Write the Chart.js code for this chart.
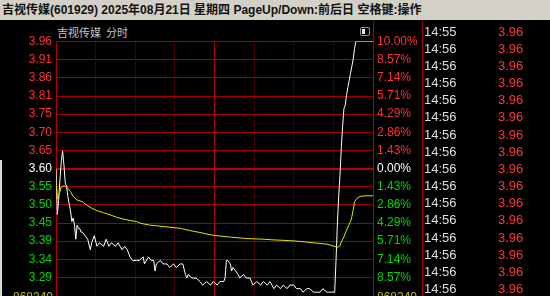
<!DOCTYPE html>
<html>
<head>
<meta charset="utf-8">
<script src="https://cdn.jsdelivr.net/npm/chart.js@4"></script>
<style>
html, body { margin: 0; padding: 0; background: #000; width: 550px; height: 296px; overflow: hidden; }
#bar { position: absolute; left: 0; top: 0; width: 548px; height: 20px; padding-left: 2px; background: #d4d0c8;
  font: bold 12px "Liberation Sans", Arial, "Noto Sans CJK SC"; color: #111; line-height: 20px; white-space: nowrap; }
#sub { position: absolute; left: 57px; top: 24px; font: 11px "Noto Sans CJK SC"; color: #c4c4c4; white-space: pre; }
#chart { position: absolute; left: 0; top: 21px; }
.vline { position: absolute; width: 1px; background: #a00000; }
.vol { position: absolute; top: 290px; font: 12px "Liberation Sans", Arial; color: #c0c000; }
#icon { position: absolute; left: 360px; top: 27px; width: 8px; height: 7px; border: 1px solid #9a9a9a; border-radius: 2px; }
#icon div { position: absolute; left: 1px; top: 1px; width: 3px; height: 5px; background: #e8e8e8; }
.row { position: absolute; font: 13px "Liberation Sans", Arial; line-height: 15px; }
.t { left: 424px; color: #dedede; }
.p { left: 498px; color: #ff3838; }
#edge { position: absolute; left: 0; top: 160px; width: 2px; height: 136px; background: #d8d8d8; }
</style>
</head>
<body>
<div id="bar">吉视传媒(601929) 2025年08月21日 星期四 PageUp/Down:前后日 空格键:操作</div>
<div id="sub">吉视传媒  分时</div>
<div id="icon"><div></div></div>
<div id="edge"></div>
<canvas id="chart" width="425" height="300"></canvas>
<div class="vline" style="left:373px;top:21px;height:22px"></div>
<div class="vline" style="left:422px;top:21px;height:275px"></div>
<div class="vol" style="left:13px">868240</div>
<div class="vol" style="left:377px">868240</div>
<div id="trades"></div>
<script>
const prevClose = 3.60;
const pctLevels = [10, 8.57, 7.14, 5.71, 4.29, 2.86, 1.43, 0, -1.43, -2.86, -4.29, -5.71, -7.14, -8.57, -10];
const priceLabels = ['3.96', '3.91', '3.86', '3.81', '3.75', '3.70', '3.65', '3.60', '3.55', '3.50', '3.45', '3.39', '3.34', '3.29', ''];
const pctLabels = ['10.00%', '8.57%', '7.14%', '5.71%', '4.29%', '2.86%', '1.43%', '0.00%', '1.43%', '2.86%', '4.29%', '5.71%', '7.14%', '8.57%', ''];
const halfHourTicks = [30, 60, 90, 150, 180, 210]; // minutes from 9:30, dotted
const sessionTicks = [0, 120, 240]; // open, midday, close, solid

// price line (minute, price)
const priceMinutes = [0, 1, 2, 3, 4, 5, 6, 7, 8, 9,
  10, 11, 12, 13, 14, 15, 16, 17, 18, 19,
  20, 22, 24, 26, 27, 29, 31, 33, 36, 38,
  40, 42, 45, 47, 50, 52, 54, 56, 58, 61,
  63, 66, 67, 70, 72, 74, 75, 76, 79, 81,
  84, 86, 89, 91, 94, 96, 98, 99, 100, 103,
  106, 109, 111, 114, 117, 119, 122, 124, 127, 128,
  129, 130, 132, 133, 134, 136, 138, 139, 142, 144,
  147, 148, 149, 152, 155, 157, 160, 162, 165, 167,
  170, 172, 175, 177, 180, 182, 185, 187, 190, 192,
  195, 197, 200, 202, 205, 207, 209, 211, 212, 213,
  214, 215, 216, 217, 218, 219, 220, 221, 222, 223,
  224, 225, 226, 227, 240];
const prices = [3.60, 3.47, 3.51, 3.57, 3.62, 3.65, 3.61, 3.56, 3.55, 3.52,
  3.50, 3.48, 3.45, 3.46, 3.44, 3.40, 3.44, 3.43, 3.43, 3.42,
  3.42, 3.41, 3.40, 3.37, 3.39, 3.41, 3.38, 3.39, 3.38, 3.40,
  3.38, 3.39, 3.38, 3.39, 3.37, 3.38, 3.37, 3.35, 3.34, 3.34,
  3.34, 3.35, 3.33, 3.35, 3.34, 3.34, 3.31, 3.33, 3.34, 3.33,
  3.33, 3.32, 3.33, 3.32, 3.33, 3.33, 3.30, 3.29, 3.30, 3.29,
  3.29, 3.28, 3.27, 3.28, 3.27, 3.28, 3.27, 3.28, 3.28, 3.29,
  3.34, 3.34, 3.33, 3.31, 3.32, 3.31, 3.30, 3.29, 3.30, 3.29,
  3.29, 3.28, 3.27, 3.28, 3.27, 3.28, 3.27, 3.28, 3.26, 3.27,
  3.26, 3.27, 3.26, 3.27, 3.27, 3.26, 3.26, 3.25, 3.26, 3.26,
  3.25, 3.25, 3.25, 3.26, 3.25, 3.25, 3.25, 3.25, 3.34, 3.44,
  3.52, 3.58, 3.66, 3.72, 3.77, 3.78, 3.81, 3.83, 3.85, 3.87,
  3.89, 3.91, 3.94, 3.96, 3.96];

// average price line
const avgMinutes = [0, 1, 2, 3, 4, 6, 8, 11, 13, 16,
  20, 23, 27, 31, 36, 41, 46, 51, 56, 61,
  64, 71, 81, 94, 102, 109, 119, 132, 144, 157,
  165, 177, 187, 197, 205, 210, 213, 215, 216, 218,
  220, 223, 224, 225, 226, 228, 230, 234, 240];
const avgPrices = [3.575, 3.514, 3.525, 3.535, 3.548, 3.551, 3.548, 3.535, 3.521, 3.511,
  3.506, 3.497, 3.488, 3.481, 3.475, 3.469, 3.462, 3.457, 3.453, 3.450,
  3.445, 3.440, 3.436, 3.431, 3.424, 3.419, 3.411, 3.406, 3.402, 3.400,
  3.398, 3.396, 3.393, 3.389, 3.386, 3.381, 3.377, 3.381, 3.392, 3.407,
  3.426, 3.450, 3.464, 3.483, 3.506, 3.516, 3.521, 3.523, 3.523];

const tradeTimes = ['14:55', '14:56', '14:56', '14:56', '14:56', '14:56', '14:56', '14:56',
  '14:56', '14:56', '14:56', '14:56', '14:56', '14:56', '14:56', '14:56'];
const tradePrices = ['3.96', '3.96', '3.96', '3.96', '3.96', '3.96', '3.96', '3.96',
  '3.96', '3.96', '3.96', '3.96', '3.96', '3.96', '3.96', '3.96'];

const trades = document.getElementById('trades');
tradeTimes.forEach((t, i) => {
  const top = 23.5 + i * 17.18;
  trades.innerHTML += `<div class="row t" style="top:${top}px">${t}</div><div class="row p" style="top:${top}px">${tradePrices[i]}</div>`;
});

const isClose = v => Math.abs(v - prevClose) < 1e-6;
const levelTicks = scale => {
  scale.ticks = pctLevels.map(p => ({ value: prevClose * (1 + p / 100) })).reverse();
};
const tickColor = ctx => {
  const v = ctx.tick.value;
  if (isClose(v)) return '#ffffff';
  return v > prevClose ? '#ff3232' : '#00d800';
};
const tickFont = { family: '"Liberation Sans", Arial', size: 12 };

new Chart(document.getElementById('chart'), {
  type: 'line',
  data: {
    datasets: [
      {
        data: avgMinutes.map((m, i) => ({ x: m, y: avgPrices[i] })),
        borderColor: '#e2e200',
        borderWidth: 1,
        pointRadius: 0,
        tension: 0
      },
      {
        data: priceMinutes.map((m, i) => ({ x: m, y: prices[i] })),
        borderColor: '#ffffff',
        borderWidth: 1,
        pointRadius: 0,
        tension: 0
      }
    ]
  },
  options: {
    responsive: false,
    animation: false,
    layout: { padding: { top: 20.5, bottom: 25.3, left: 0, right: 0 } },
    plugins: { legend: { display: false }, tooltip: { enabled: false } },
    scales: {
      x: {
        type: 'linear',
        min: 0,
        max: 240,
        afterBuildTicks: scale => { scale.ticks = halfHourTicks.map(v => ({ value: v })); },
        ticks: { display: false },
        grid: { color: '#c00000', drawTicks: false },
        border: { display: false, dash: [1, 2] }
      },
      x2: {
        type: 'linear',
        position: 'bottom',
        min: 0,
        max: 240,
        afterBuildTicks: scale => { scale.ticks = sessionTicks.map(v => ({ value: v })); },
        ticks: { display: false },
        grid: { color: '#b00000', drawTicks: false },
        border: { display: false }
      },
      y: {
        position: 'left',
        min: 3.24,
        max: 3.96,
        afterBuildTicks: levelTicks,
        afterFit: scale => { scale.width = 56; },
        ticks: {
          autoSkip: false,
          padding: 4,
          font: tickFont,
          color: tickColor,
          callback: (v, i) => priceLabels[pctLevels.length - 1 - i]
        },
        grid: {
          drawTicks: false,
          color: ctx => ctx.index === 0 ? 'rgba(0,0,0,0)' : (ctx.tick && isClose(ctx.tick.value) ? '#c00000' : '#a00000'),
          lineWidth: ctx => (ctx.tick && isClose(ctx.tick.value)) ? 2 : 1
        },
        border: { display: false }
      },
      y2: {
        position: 'right',
        min: 3.24,
        max: 3.96,
        afterBuildTicks: levelTicks,
        afterFit: scale => { scale.width = 52; },
        ticks: {
          autoSkip: false,
          padding: 4,
          font: tickFont,
          color: tickColor,
          callback: (v, i) => pctLabels[pctLevels.length - 1 - i]
        },
        grid: { display: false, drawTicks: false },
        border: { display: false }
      }
    }
  }
});
</script>
</body>
</html>
